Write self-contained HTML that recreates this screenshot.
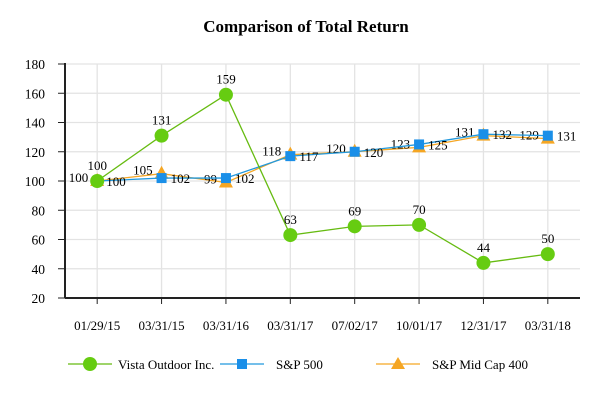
<!DOCTYPE html>
<html><head><meta charset="utf-8"><style>
body{margin:0;background:#fff}
svg{display:block;font-family:"Liberation Serif",serif}
</style></head><body>
<svg id="c" width="613" height="400">
<text x="306" y="32" text-anchor="middle" font-size="17" font-weight="bold">Comparison of Total Return</text>
<g id="grid"></g><g id="axes"></g><g id="series"></g>
<g>
<g><line x1="68" y1="364" x2="112" y2="364" stroke="#66bb11" stroke-width="1.3"/><circle cx="90" cy="364" r="7" fill="#66cc11"/><text x="118" y="369" font-size="13">Vista Outdoor Inc.</text></g>
<g><line x1="220" y1="364" x2="264" y2="364" stroke="#2299dd" stroke-width="1.3"/><rect x="237" y="359" width="10" height="10" fill="#1a8fe8"/><text x="276" y="369" font-size="13">S&amp;P 500</text></g>
<g><line x1="376" y1="364" x2="420" y2="364" stroke="#f5a623" stroke-width="1.3"/><polygon points="398,357 405,369 391,369" fill="#f5a623"/><text x="432" y="369" font-size="13">S&amp;P Mid Cap 400</text></g>
</g>
</svg>
<script>
const categories=["01/29/15","03/31/15","03/31/16","03/31/17","07/02/17","10/01/17","12/31/17","03/31/18"];
const vista=[100,131,159,63,69,70,44,50];
const sp500=[100,102,102,117,120,125,132,131];
const midcap=[100,105,99,118,120,123,131,129];
const yTicks=[20,40,60,80,100,120,140,160,180];
const NS="http://www.w3.org/2000/svg";
const L=65,R=580,T=64,B=298;
const bw=(R-L)/categories.length;
const xs=i=>L+bw*(i+0.5);
const ys=v=>B-(v-20)/(160)*(B-T);
function mk(tag,attrs,parent,txt){const e=document.createElementNS(NS,tag);for(const k in attrs)e.setAttribute(k,attrs[k]);if(txt!=null)e.textContent=txt;parent.appendChild(e);return e;}
const grid=document.getElementById('grid'),axes=document.getElementById('axes'),ser=document.getElementById('series');
yTicks.forEach(t=>{const y=ys(t);
 const g=mk('line',{x1:L,x2:R,y1:y,y2:y,stroke:'#e3e3e3','stroke-width':1.3},grid);
 
 
 mk('line',{x1:L-7,x2:L,y1:y,y2:y,stroke:'#222'},axes);
 const tx=mk('text',{x:L-20,y:y+5,'text-anchor':'end','font-size':13.5},axes,t);
 
 
});
categories.forEach((c,i)=>{const x=xs(i);
 const g=mk('line',{x1:x,x2:x,y1:T,y2:B,stroke:'#e3e3e3','stroke-width':1.3},grid);
 
 
 mk('line',{x1:x,x2:x,y1:B,y2:B+6,stroke:'#222'},axes);
 const tx=mk('text',{x:x,y:B+32,'text-anchor':'middle','font-size':13},axes,c);
 
 
});
mk('line',{x1:L,x2:L,y1:T-1,y2:B,stroke:'#222','stroke-width':2},axes);
mk('line',{x1:L,x2:R,y1:B,y2:B,stroke:'#222','stroke-width':2},axes);
function series(vals,color,name,marker,lab){
 const g=mk('g',{},ser);
 
 
 mk('polyline',{points:vals.map((v,i)=>xs(i)+','+ys(v)).join(' '),fill:'none',stroke:color,'stroke-width':1.3},g);
 vals.forEach((v,i)=>{const x=xs(i),y=ys(v);let m;
  if(marker==='c')m=mk('circle',{cx:x,cy:y,r:7,fill:'#66cc11'},g);
  else if(marker==='s')m=mk('rect',{x:x-5,y:y-5,width:10,height:10,fill:'#1a8fe8'},g);
  else m=mk('polygon',{points:`${x},${y-8} ${x+7},${y+5} ${x-7},${y+5}`,fill:'#f5a623'},g);
  
  
  let t;
  if(lab==='above')t=mk('text',{x:x,y:y-11,'text-anchor':'middle','font-size':13},g,v);
  else if(lab==='right')t=mk('text',{x:x+9,y:y+5,'text-anchor':'start','font-size':13},g,v);
  else t=mk('text',{x:x-9,y:y+1,'text-anchor':'end','font-size':13},g,v);
  
  
 });
}
series(midcap,'#f5a623','midcap400-series','t','left');
series(sp500,'#2299dd','sp500-series','s','right');
series(vista,'#66bb11','vista-series','c','above');
</script>
</body></html>
